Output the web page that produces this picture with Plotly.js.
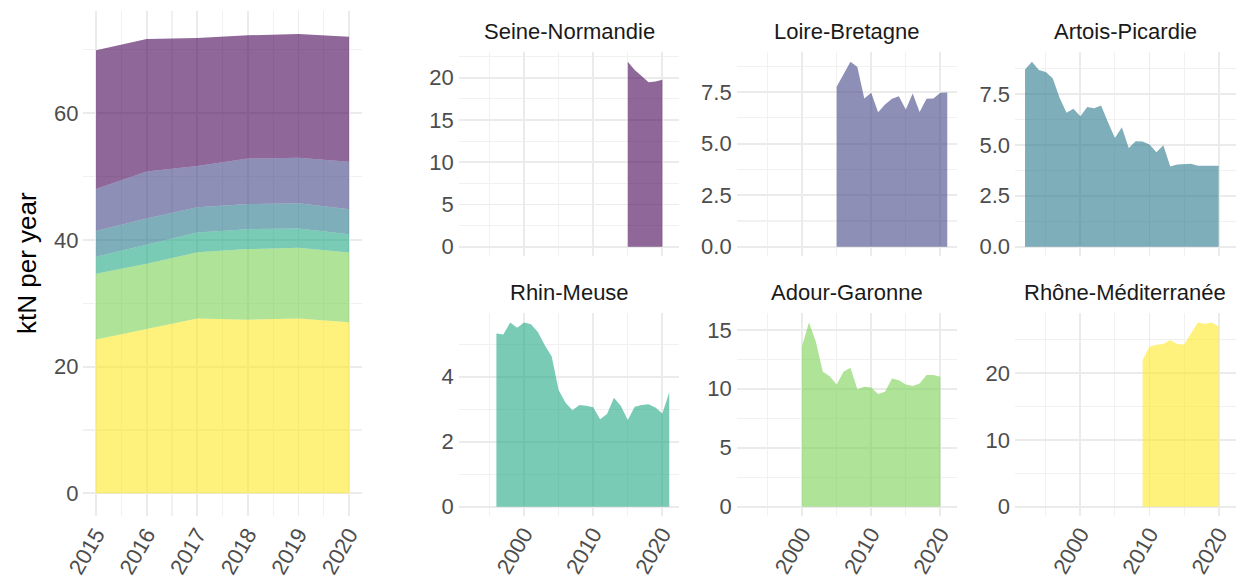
<!DOCTYPE html>
<html><head><meta charset="utf-8">
<script src="https://cdn.plot.ly/plotly-3.0.1.min.js"></script>
<style>html,body{margin:0;padding:0;background:#fff}</style>
</head><body><div id="chart" style="width:1238px;height:583px"></div>
<script>
// ---- data ----
const basins = ["Seine-Normandie","Loire-Bretagne","Artois-Picardie","Rhin-Meuse","Adour-Garonne","Rhône-Méditerranée"];
const basinColors = ["rgba(68,1,84,0.6)","rgba(65,68,135,0.6)","rgba(42,120,142,0.6)","rgba(34,168,132,0.6)","rgba(122,209,81,0.6)","rgba(253,231,37,0.6)"];

const seineYears = [2015,2016,2017,2018,2019,2020];
const seineValues = [21.9,20.9,20.2,19.45,19.55,19.75];

const loireYears = [2005,2006,2007,2008,2009,2010,2011,2012,2013,2014,2015,2016,2017,2018,2019,2020,2021];
const loireValues = [7.76,8.37,8.98,8.72,7.19,7.47,6.53,6.9,7.18,7.3,6.66,7.43,6.54,7.18,7.19,7.47,7.48];

const artoisYears = [1992,1993,1994,1995,1996,1997,1998,1999,2000,2001,2002,2003,2004,2005,2006,2007,2008,2009,2010,2011,2012,2013,2014,2015,2016,2017,2018,2019,2020];
const artoisValues = [8.70,9.08,8.67,8.57,8.26,7.31,6.57,6.77,6.40,6.85,6.80,6.93,6.11,5.34,5.86,4.84,5.17,5.16,5.01,4.63,4.98,3.94,4.04,4.06,4.07,3.97,3.97,3.97,3.97];

const rhinYears = [1996,1997,1998,1999,2000,2001,2002,2003,2004,2005,2006,2007,2008,2009,2010,2011,2012,2013,2014,2015,2016,2017,2018,2019,2020,2021];
const rhinValues = [5.33,5.30,5.67,5.51,5.67,5.62,5.38,4.97,4.62,3.59,3.20,2.97,3.13,3.11,3.06,2.69,2.85,3.35,3.10,2.67,3.08,3.13,3.15,3.05,2.87,3.52];

const adourYears = [2000,2001,2002,2003,2004,2005,2006,2007,2008,2009,2010,2011,2012,2013,2014,2015,2016,2017,2018,2019,2020];
const adourValues = [13.62,15.62,13.98,11.44,11.07,10.37,11.44,11.78,9.97,10.17,10.11,9.55,9.75,10.88,10.73,10.37,10.23,10.45,11.16,11.16,11.02];

const rhoneYears = [2009,2010,2011,2012,2013,2014,2015,2016,2017,2018,2019,2020];
const rhoneValues = [22.0,23.98,24.28,24.38,24.98,24.38,24.3,26.0,27.6,27.4,27.6,27.0];

const stackYears = [2015,2016,2017,2018,2019,2020];
const smallXTicks = [2000,2010,2020];
const yTitle = "ktN per year";

// ---- layout helpers ----
const W = 1238, H = 583;
const fx = p => p / W;
const fy = p => 1 - p / H;
const FONT = "Liberation Sans, Arial, Helvetica, sans-serif";
const series = [
  [seineYears, seineValues], [loireYears, loireValues], [artoisYears, artoisValues],
  [rhinYears, rhinValues], [adourYears, adourValues], [rhoneYears, rhoneValues]
];

const grid = {showgrid:true, gridcolor:"#EBEBEB", gridwidth:1.8, zeroline:false, showline:false, ticks:"",
  tickfont:{family:FONT, size:22, color:"#4D4D4D"}, fixedrange:true};
const minorGrid = {showgrid:true, gridcolor:"#F1F1F1", gridwidth:1.1, ticks:""};

const traces = [];
const layout = {
  width:W, height:H, margin:{l:0,r:0,t:0,b:0}, paper_bgcolor:"#fff", plot_bgcolor:"#fff",
  showlegend:false, font:{family:FONT}, annotations:[]
};

// Left stacked panel (bottom-up: Rhône ... Seine)
const stackOrder = [5,4,3,2,1,0];
const totals = stackYears.map(()=>0);
stackOrder.forEach((bi, k) => {
  const [yrs, vals] = series[bi];
  const yv = stackYears.map(y => vals[yrs.indexOf(y)]);
  yv.forEach((v,i)=> totals[i]+=v);
  traces.push({x:stackYears, y:yv, type:"scatter", mode:"lines", stackgroup:"one",
    line:{width:0}, fillcolor:basinColors[bi], hoverinfo:"skip", xaxis:"x", yaxis:"y"});
});
const tmax = Math.max(...totals);
layout.xaxis = Object.assign({}, grid, {domain:[fx(83.4), fx(361.7)], range:[2014.75, 2020.25],
  tickvals:stackYears, ticktext:stackYears.map(String), tickangle:-60,
  minor:Object.assign({}, minorGrid, {dtick:0.5, tick0:2014.5})});
layout.yaxis = Object.assign({}, grid, {domain:[fy(516.3), fy(11.0)], range:[-0.05*tmax, 1.05*tmax],
  tickvals:[0,20,40,60], ticklabelstandoff:4,
  minor:Object.assign({}, minorGrid, {dtick:10, tick0:0})});
layout.annotations.push({text:yTitle, xref:"paper", yref:"paper", x:fx(27), y:fy(263), textangle:-90,
  showarrow:false, xanchor:"center", yanchor:"middle", font:{family:FONT, size:26, color:"#000"}});

// Small multiples
const cols = [[458.7,679.3],[736.7,957.3],[1015,1235.6]];
const rows = [[52.4,256],[313.3,515.9]];
const titleY = [32, 292.5];
const yTicks = [[0,5,10,15,20],[0,2.5,5,7.5],[0,2.5,5,7.5],[0,2,4],[0,5,10,15],[0,10,20]];
const yTickText = [["0","5","10","15","20"],["0.0","2.5","5.0","7.5"],["0.0","2.5","5.0","7.5"],["0","2","4"],["0","5","10","15"],["0","10","20"]];
series.forEach(([yrs, vals], i) => {
  const n = i + 2;
  const c = cols[i % 3], r = rows[Math.floor(i / 3)];
  traces.push({x:yrs, y:vals, type:"scatter", mode:"lines", fill:"tozeroy", line:{width:0},
    fillcolor:basinColors[i], hoverinfo:"skip", xaxis:"x"+n, yaxis:"y"+n});
  const vmax = Math.max(...vals);
  const step = yTicks[i][1] - yTicks[i][0];
  layout["xaxis"+n] = Object.assign({}, grid, {domain:[fx(c[0]), fx(c[1])], range:[1990.55, 2022.45],
    anchor:"y"+n, tickvals:smallXTicks, ticktext:smallXTicks.map(String), tickangle:-60,
    showticklabels: i >= 3,
    minor:Object.assign({}, minorGrid, {dtick:5, tick0:1995})});
  layout["yaxis"+n] = Object.assign({}, grid, {domain:[fy(r[1]), fy(r[0])], range:[-0.05*vmax, 1.05*vmax],
    anchor:"x"+n, tickvals:yTicks[i], ticktext:yTickText[i], ticklabelstandoff:4,
    minor:Object.assign({}, minorGrid, {dtick:step/2, tick0:0})});
  layout.annotations.push({text:basins[i], xref:"paper", yref:"paper", x:fx((c[0]+c[1])/2), y:fy(titleY[Math.floor(i/3)]),
    showarrow:false, xanchor:"center", yanchor:"middle", font:{family:FONT, size:22, color:"#1A1A1A"}});
});

Plotly.newPlot("chart", traces, layout, {staticPlot:true, displayModeBar:false});
</script>
</body></html>
